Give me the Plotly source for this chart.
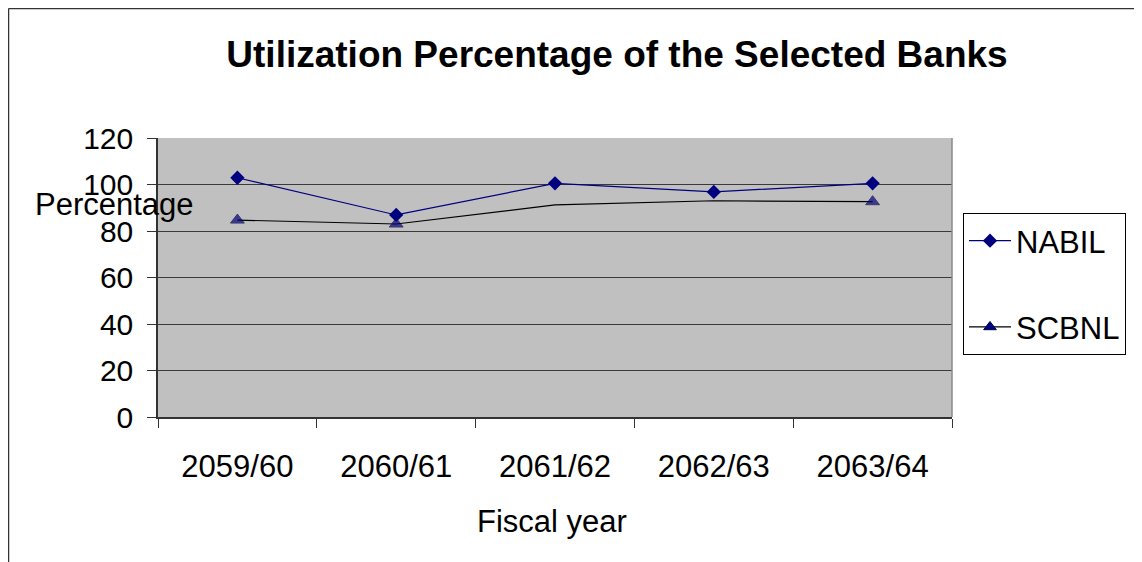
import plotly.graph_objects as go

# data
years = ["2059/60", "2060/61", "2061/62", "2062/63", "2063/64"]
nabil = [102.9, 86.9, 100.5, 96.8, 100.5]
scbnl = [84.7, 83.0, 91.2, 93.0, 92.6]
y_ticks = [0, 20, 40, 60, 80, 100, 120]

W, H = 1142, 562
OFF = 8                            # page body margin the figure sits inside
L, R, T, B = 158, 952, 138, 417    # plot area in page pixels
FONT = "Arial, Liberation Sans, sans-serif"


def px(x):  # page pixel -> paper x
    return (x - L) / (R - L)


def py(y):  # page pixel -> paper y
    return (B - y) / (B - T)


tri = dict(symbol="triangle-up", color="#000080", line=dict(color="#000040", width=1))

fig = go.Figure()
fig.add_scatter(x=years, y=nabil, name="NABIL", mode="lines+markers",
                legendgroup="a",
                line=dict(color="#000080", width=1.2),
                marker=dict(symbol="diamond", size=11, color="#000080"))
# SCBNL: markers only show on some points in the original
fig.add_scatter(x=years, y=scbnl, name="SCBNL", mode="lines+markers",
                legendgroup="b", showlegend=False,
                line=dict(color="#000000", width=1.2),
                marker=dict(size=[12, 12, 0, 0, 12], **tri))
# legend entry for SCBNL
fig.add_scatter(x=[None], y=[None], name="SCBNL", mode="lines+markers",
                legendgroup="b",
                line=dict(color="#000000", width=1.2),
                marker=dict(size=11, **tri))

fig.update_layout(
    width=W, height=H,
    margin=dict(l=L - OFF, r=W - (R - OFF), t=T - OFF, b=H - (B - OFF)),
    paper_bgcolor="white", plot_bgcolor="#C0C0C0",
    font=dict(family=FONT, color="black", size=31),
    title=dict(text="<b>Utilization Percentage of the Selected Banks</b>",
               font=dict(size=37), x=(617 - OFF) / W, xanchor="center",
               y=1 - (54 - OFF) / H, yanchor="middle"),
    showlegend=True,
    legend=dict(x=px(963), y=py(213), xanchor="left", yanchor="top",
                bgcolor="white", bordercolor="black", borderwidth=1,
                font=dict(size=31), tracegroupgap=43, itemwidth=42),
    xaxis=dict(type="category", tickson="boundaries", ticks="outside", ticklen=9,
               tickcolor="#333", showgrid=False, showline=True, linecolor="#333",
               linewidth=1.5, ticklabelstandoff=21, tickfont=dict(size=31),
               range=[-0.5, 4.5], zeroline=False),
    yaxis=dict(range=[0, 120], tickvals=y_ticks, ticks="outside", ticklen=9,
               tickcolor="#333", showgrid=True, gridcolor="#3a3a3a", gridwidth=1,
               showline=True, linecolor="#333", linewidth=1.5, zeroline=False,
               ticklabelstandoff=8, tickfont=dict(size=30)),
    shapes=[
        # chart frame (left and top edges)
        dict(type="line", xref="paper", yref="paper", x0=px(8.5), x1=px(8.5),
             y0=py(8.5), y1=py(H + 20), line=dict(color="#333", width=1.5)),
        dict(type="line", xref="paper", yref="paper", x0=px(8.5), x1=px(W + 20),
             y0=py(8.5), y1=py(8.5), line=dict(color="#333", width=1.5)),
        # right edge of plot area
        dict(type="line", xref="paper", yref="paper", x0=1, x1=1, y0=0, y1=1,
             line=dict(color="#8a8a8a", width=1.5)),
    ],
    annotations=[
        dict(text="Percentage", xref="paper", yref="paper", x=px(33), y=py(204),
             xanchor="left", yanchor="middle", showarrow=False, font=dict(size=31)),
        dict(text="Fiscal year", xref="paper", yref="paper", x=px(552), y=py(521),
             xanchor="center", yanchor="middle", showarrow=False, font=dict(size=31)),
    ],
)

fig.write_html("out.html")
